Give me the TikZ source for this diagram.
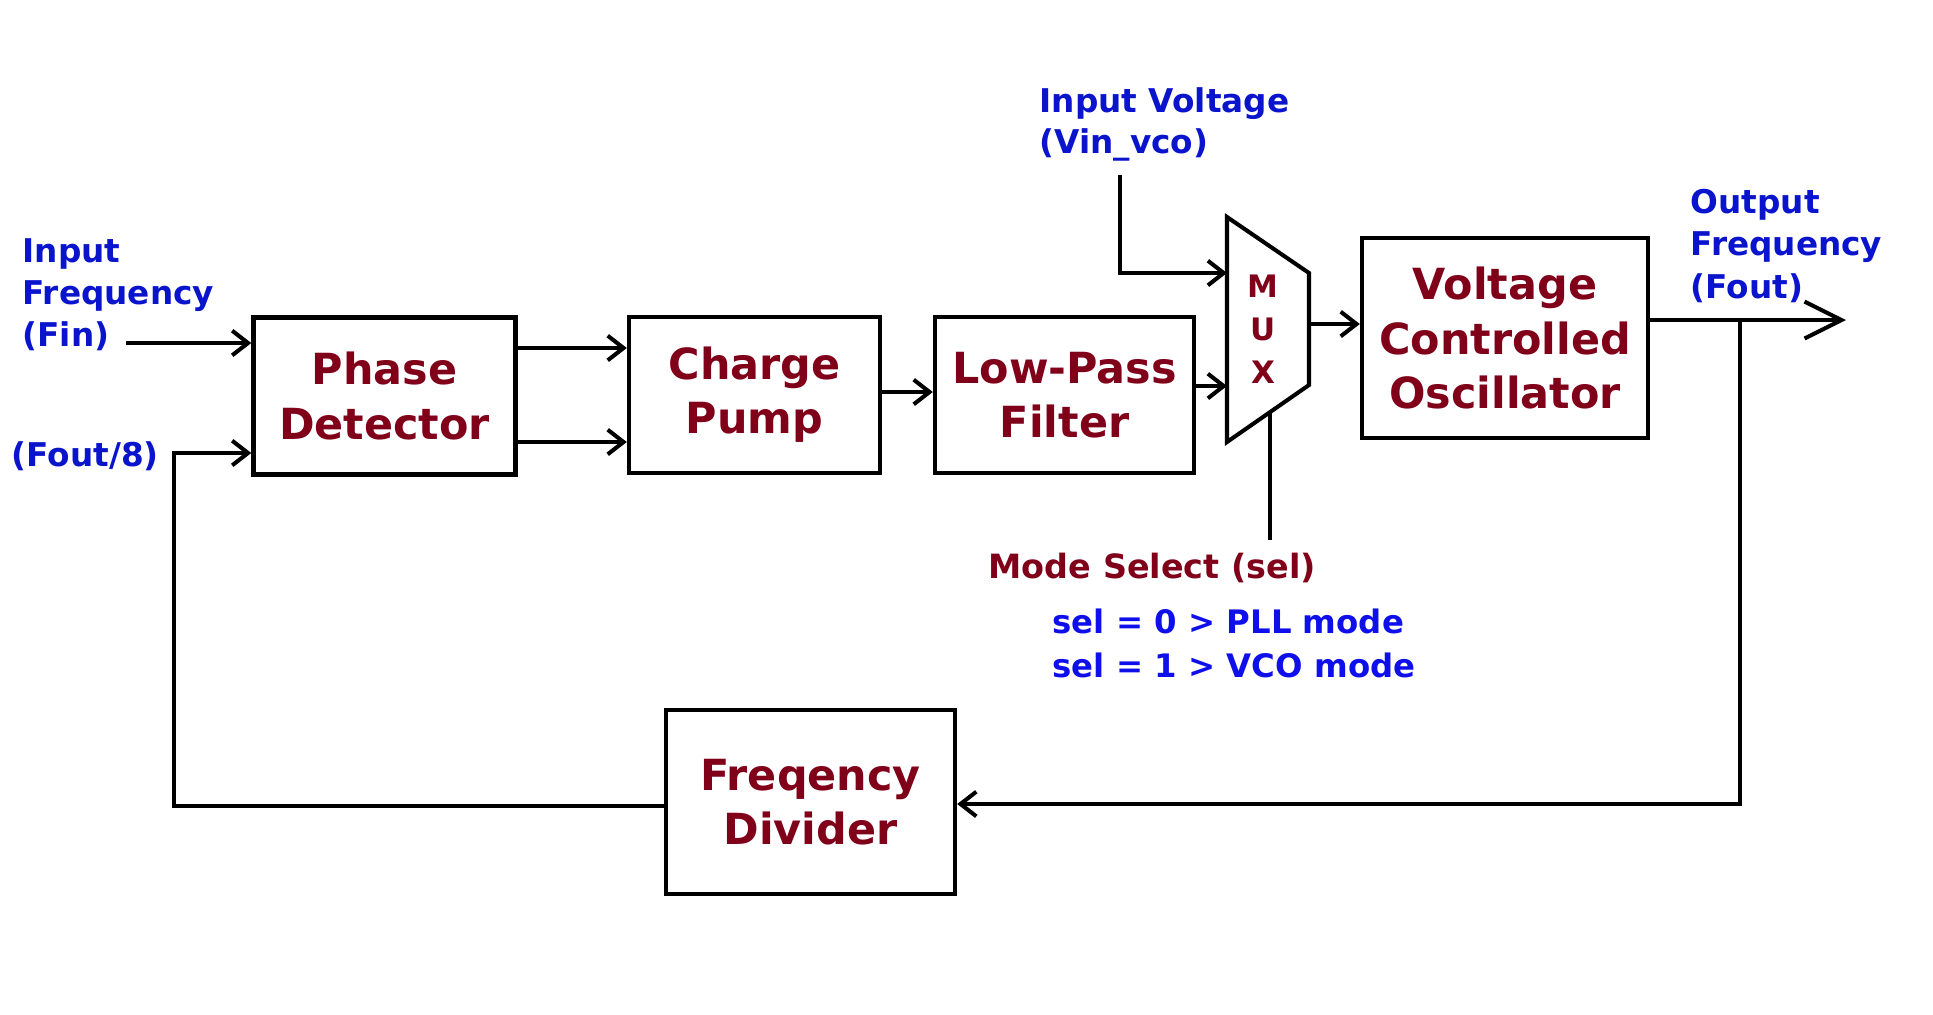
\documentclass[tikz,border=0pt]{standalone}
\usepackage{fontspec}
\usetikzlibrary{arrows.meta}
\newfontfamily\labfont{DejaVu Sans}
\newfontfamily\boxfont{DejaVu Sans}
\newfontfamily\plainfont{DejaVu Sans}
\definecolor{dred}{RGB}{128,0,26}
\definecolor{lblue}{RGB}{10,20,205}
\definecolor{sblue}{RGB}{15,15,235}
\tikzset{
  blk/.style={draw, line width=1.2pt, rectangle, align=center, text=dred,
    font=\boxfont\bfseries\fontsize{12.2pt}{15.4pt}\selectfont},
  lab/.style={anchor=base west, inner sep=0pt, text=lblue,
    font=\labfont\bfseries\fontsize{9.3pt}{11pt}\selectfont},
  arr/.style={line width=1.15pt, -{Straight Barb[length=4.5pt,width=7pt]}},
  bigarr/.style={line width=1.15pt, -{Straight Barb[length=10.5pt,width=10.5pt]}},
  wire/.style={line width=1.15pt},
}
\begin{document}
\begin{tikzpicture}[x=0.01cm,y=-0.01cm]
\useasboundingbox (0,0) rectangle (1933,1014);
% blocks
\node[blk, minimum width=2.62cm, minimum height=1.57cm] (pd) at (384.5,396) {Phase\\Detector};
\node[blk, minimum width=2.51cm, minimum height=1.56cm] (cp) at (754.5,395) {Charge\\Pump};
\node[blk, minimum width=2.59cm, minimum height=1.56cm] (lpf) at (1064.5,395) {Low-Pass\\Filter};
\node[blk, minimum width=2.86cm, minimum height=2.00cm] (vco) at (1505,338) {Voltage\\Controlled\\Oscillator};
\node[blk, minimum width=2.89cm, minimum height=1.84cm] (fd) at (810.5,802) {Freqency\\Divider};
% MUX
\coordinate (mtl) at (1227,217);
\coordinate (mtr) at (1309,273);
\coordinate (mbr) at (1309,385);
\coordinate (mbl) at (1227,442);
\draw[line width=1.15pt, line join=miter] (mtl) -- (mtr) -- (mbr) -- (mbl) -- cycle;
\node[text=dred, align=center, inner sep=0pt, font=\plainfont\bfseries\fontsize{8.8pt}{12.2pt}\selectfont] (muxl) at (1263,329) {M\\U\\X};
% labels
\node[lab] (lf1) at (22,262) {Input};
\node[lab] (lf2) at (22,304) {Frequency};
\node[lab] (lf3) at (22,346) {(Fin)};
\node[lab] (lfo) at (11,466) {(Fout/8)};
\node[lab] (lv1) at (1039,112) {Input Voltage};
\node[lab] (lv2) at (1039,153) {(Vin\_vco)};
\node[lab] (lo1) at (1690,213) {Output};
\node[lab] (lo2) at (1690,255) {Frequency};
\node[lab] (lo3) at (1690,298) {(Fout)};
\node[anchor=base west, inner sep=0pt, text=dred, font=\plainfont\bfseries\fontsize{9.5pt}{11pt}\selectfont] (ms) at (988,578) {Mode Select (sel)};
\node[anchor=base west, inner sep=0pt, text=sblue, font=\plainfont\bfseries\fontsize{9.2pt}{11pt}\selectfont] (s0) at (1052,633) {sel = 0 > PLL mode};
\node[anchor=base west, inner sep=0pt, text=sblue, font=\plainfont\bfseries\fontsize{9.2pt}{11pt}\selectfont] (s1) at (1052,677) {sel = 1 > VCO mode};
% connectors
\coordinate (fin) at (126,343);
\draw[arr] (fin) -- (fin -| pd.west);
\draw[arr] (pd.east |- 0,348) -- (cp.west |- 0,348);
\draw[arr] (pd.east |- 0,442) -- (cp.west |- 0,442);
\draw[arr] (cp.east |- 0,392) -- (lpf.west |- 0,392);
\draw[arr] (lpf.east |- 0,386) -- (mbl |- 0,386);
\coordinate (vin) at (1120,175);
\draw[arr] (vin) |- (mtl |- 0,273);
\draw[arr] (mtr |- 0,324) -- (vco.west |- 0,324);
\coordinate (selt) at (1270,413);
\coordinate (selb) at (1270,540);
\draw[wire] (selt) -- (selb);
\coordinate (tap) at (1740,320);
\coordinate (outend) at (1846,320);
\draw[bigarr] (vco.east |- tap) -- (outend);
\coordinate (fbr) at (1740,804);
\draw[arr] (tap) -- (fbr) -- (fd.east |- fbr);
\coordinate (fbl) at (174,806);
\coordinate (fbu) at (174,453);
\draw[arr] (fd.west |- fbl) -- (fbl) -- (fbu) -- (fbu -| pd.west);
\end{tikzpicture}
\end{document}
